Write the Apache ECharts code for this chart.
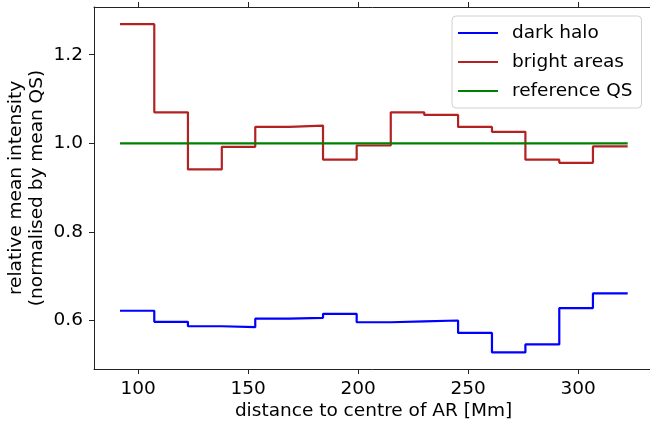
<!DOCTYPE html>
<html>
<head>
<meta charset="utf-8">
<title>relative mean intensity vs distance</title>
<script src="https://cdn.jsdelivr.net/npm/echarts@6/dist/echarts.min.js"></script>
<style>
  html, body { margin: 0; padding: 0; background: #fff; }
  #chart { width: 650px; height: 427px; }
</style>
</head>
<body>
<div id="chart"></div>
<script>
// bin edges [Mm] (15 bins)
const binEdges = [91.7, 107.3, 122.6, 138.0, 153.2, 168.7, 184.0, 199.3,
                  214.8, 230.0, 245.4, 260.8, 276.0, 291.4, 306.7, 322.5]

// one value per bin
const darkHalo = [0.622, 0.597, 0.587, 0.585, 0.604, 0.606, 0.615, 0.596,
                  0.598, 0.600, 0.572, 0.528, 0.546, 0.628, 0.661]
const brightAreas = [1.269, 1.070, 0.941, 0.992, 1.037, 1.040, 0.963, 0.995,
                     1.070, 1.064, 1.037, 1.026, 0.963, 0.956, 0.993]
const referenceQS = [1.0, 1.0, 1.0, 1.0, 1.0, 1.0, 1.0, 1.0,
                     1.0, 1.0, 1.0, 1.0, 1.0, 1.0, 1.0]

const xTicks = [100, 150, 200, 250, 300]
const yTicks = [0.6, 0.8, 1.0, 1.2]

const font = 'DejaVu Sans'
const fontSize = 18.5

// steps-post: every edge gets the value of the bin it starts, last edge repeats
function stepData(vals) {
  return binEdges.map((x, i) => [x, vals[Math.min(i, vals.length - 1)]])
}

function stepSeries(name, vals, color) {
  return {
    name: name,
    type: 'line',
    step: 'end',
    symbol: 'none',
    data: stepData(vals),
    lineStyle: { color: color, width: 2.2 },
    itemStyle: { color: color },
    animation: false
  }
}

const chart = echarts.init(document.getElementById('chart'))

const axisLine = { show: true, lineStyle: { color: '#222', width: 1 } }
const tick = { show: true, length: 5, lineStyle: { color: '#222' } }

chart.setOption({
  animation: false,
  // the right spine sits just past the picture edge, like the original crop
  grid: { left: 94, right: -3, top: 7, bottom: 58, outerBoundsMode: 'none', containLabel: false },
  legend: {
    orient: 'vertical',
    left: 452,
    top: 16,
    padding: [7.5, 9, 7.5, 6],
    // plain line as the legend key
    icon: 'path://M0,0 L40,0 L40,2.2 L0,2.2 Z',
    itemWidth: 40,
    itemHeight: 18,
    itemGap: 10,
    backgroundColor: 'rgba(255,255,255,0.8)',
    borderColor: '#d0d0d0',
    borderWidth: 1,
    borderRadius: 4,
    textStyle: { fontFamily: font, fontSize: fontSize, color: '#000', lineHeight: 18, padding: [0, 0, 0, 9] },
    data: ['dark halo', 'bright areas', 'reference QS']
  },
  xAxis: [
    {
      type: 'value',
      min: 79.9,
      max: 334.0,
      position: 'bottom',
      name: 'distance to centre of AR [Mm]',
      nameLocation: 'middle',
      nameGap: 33,
      nameMoveOverlap: false,
      nameTextStyle: { fontFamily: font, fontSize: fontSize, color: '#000' },
      axisLine: axisLine,
      axisTick: Object.assign({ customValues: xTicks }, tick),
      axisLabel: { customValues: xTicks, margin: 11, fontFamily: font, fontSize: fontSize, color: '#000' },
      splitLine: { show: false }
    },
    {
      // top spine carries the same ticks, no labels
      type: 'value',
      min: 79.9,
      max: 334.0,
      position: 'top',
      axisLine: axisLine,
      axisTick: Object.assign({ customValues: xTicks }, tick),
      axisLabel: { show: false },
      splitLine: { show: false }
    }
  ],
  yAxis: {
    type: 'value',
    min: 0.4905,
    max: 1.3077,
    position: 'left',
    name: 'relative mean intensity\n(normalised by mean QS)',
    nameLocation: 'middle',
    nameGap: 46,
    nameMoveOverlap: false,
    nameTextStyle: { fontFamily: font, fontSize: fontSize, color: '#000', lineHeight: 21 },
    axisLine: axisLine,
    axisTick: Object.assign({ customValues: yTicks }, tick),
    axisLabel: {
      customValues: yTicks,
      margin: 11,
      fontFamily: font,
      fontSize: fontSize,
      color: '#000',
      formatter: v => v.toFixed(1)
    },
    splitLine: { show: false }
  },
  series: [
    stepSeries('dark halo', darkHalo, '#0000ff'),
    stepSeries('bright areas', brightAreas, '#b22222'),
    stepSeries('reference QS', referenceQS, '#008000')
  ]
})
</script>
</body>
</html>
